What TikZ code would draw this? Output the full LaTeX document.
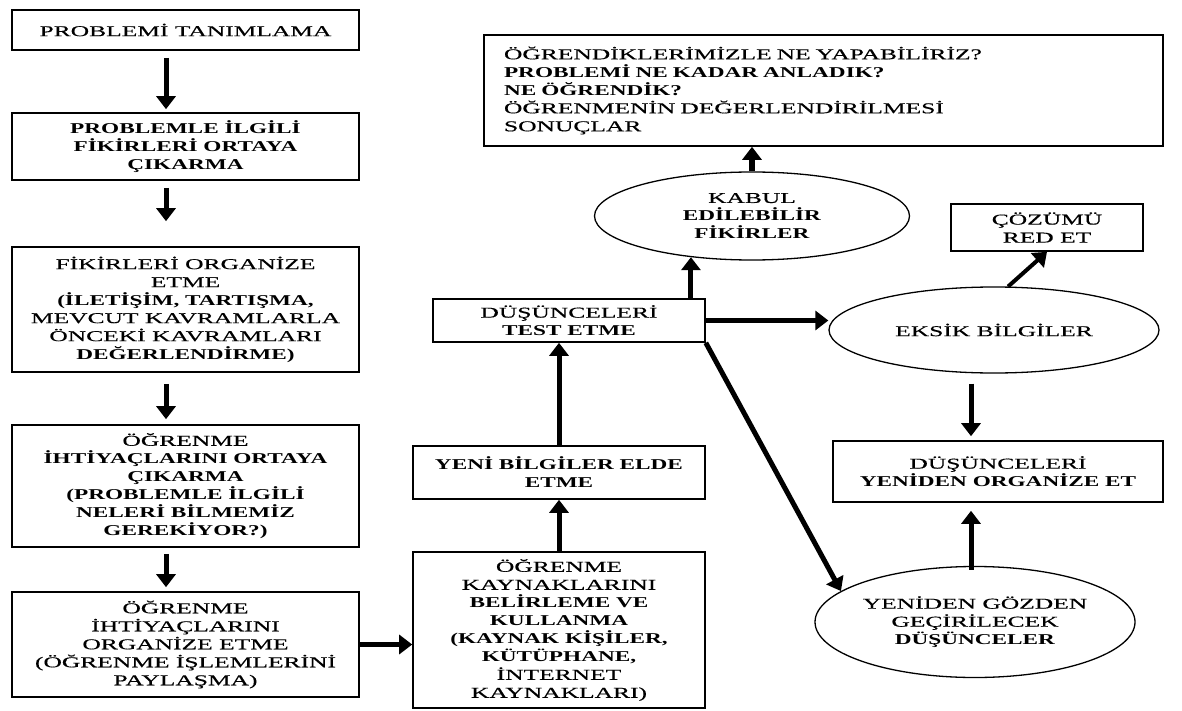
\documentclass[tikz,border=0pt]{standalone}
\usepackage{fontspec}
\setmainfont{Liberation Serif}[UprightFeatures={FakeStretch=1.7, FakeBold=0.4}, BoldFeatures={FakeStretch=1.55}]
\usetikzlibrary{arrows.meta}
\usetikzlibrary{shapes.geometric}

\tikzset{
  box/.style={draw, line width=1.6pt, inner sep=0pt, align=center, font=\fontsize{15}{18}\selectfont},
  oval/.style={draw, ellipse, line width=1.3pt, inner sep=0pt, align=center, font=\fontsize{15}{18}\selectfont},
  arr/.style={line width=5pt, -{Triangle[length=13pt,width=19pt]}},
}

\begin{document}
\begin{tikzpicture}[x=1pt,y=-1pt]
\useasboundingbox (0,0) rectangle (1182,711);

% left column
\node[box, minimum width=347pt, minimum height=40pt] (tanim) at (185.5,30) {PROBLEMİ TANIMLAMA};
\node[box, minimum width=347pt, minimum height=67pt] (fikir) at (185.5,146.5)
  {\textbf{PROBLEMLE İLGİLİ}\\\textbf{FİKİRLERİ ORTAYA}\\\textbf{ÇIKARMA}};
\node[box, minimum width=347pt, minimum height=125pt] (organize) at (185.5,309.5)
  {FİKİRLERİ ORGANİZE\\ETME\\\textbf{(İLETİŞİM, TARTIŞMA,}\\MEVCUT KAVRAMLARLA\\ÖNCEKİ KAVRAMLARI\\\textbf{DEĞERLENDİRME)}};
\node[box, minimum width=347pt, minimum height=122pt] (ihtiyac) at (185.5,486)
  {ÖĞRENME\\\textbf{İHTİYAÇLARINI ORTAYA}\\\textbf{ÇIKARMA}\\\textbf{(PROBLEMLE İLGİLİ}\\\textbf{NELERİ BİLMEMİZ}\\\textbf{GEREKİYOR?)}};
\node[box, minimum width=347pt, minimum height=105pt] (ihtorg) at (185.5,644.5)
  {ÖĞRENME\\İHTİYAÇLARINI\\ORGANİZE ETME\\(ÖĞRENME İŞLEMLERİNİ\\PAYLAŞMA)};

% middle column
\node[box, minimum width=292pt, minimum height=156pt] (kaynak) at (559,630)
  {ÖĞRENME\\KAYNAKLARINI\\\textbf{BELİRLEME VE}\\\textbf{KULLANMA}\\\textbf{(KAYNAK KİŞİLER,}\\\textbf{KÜTÜPHANE,}\\İNTERNET\\KAYNAKLARI)};
\node[box, minimum width=292pt, minimum height=53pt] (yeni) at (559,472.5)
  {\textbf{YENİ BİLGİLER ELDE}\\\textbf{ETME}};
\node[box, minimum width=272pt, minimum height=43pt] (test) at (569,320.5)
  {DÜŞÜNCELERİ\\\textbf{TEST ETME}};
\node[oval, minimum width=315pt, minimum height=88pt] (kabul) at (752,216)
  {KABUL\\\textbf{EDİLEBİLİR}\\\textbf{FİKİRLER}};
\node[box, minimum width=679pt, minimum height=111pt, text width=639pt, align=left] (sonuc) at (823.5,90.5)
  {ÖĞRENDİKLERİMİZLE NE YAPABİLİRİZ?\\\textbf{PROBLEMİ NE KADAR ANLADIK?}\\\textbf{NE ÖĞRENDİK?}\\ÖĞRENMENİN DEĞERLENDİRİLMESİ\\SONUÇLAR};

% right column
\node[box, minimum width=192pt, minimum height=47pt] (red) at (1047,227.5) {ÇÖZÜMÜ\\RED ET};
\node[oval, minimum width=330pt, minimum height=86pt] (eksik) at (994,330) {EKSİK BİLGİLER};
\node[box, minimum width=330pt, minimum height=61pt] (yorg) at (998,471.5)
  {DÜŞÜNCELERİ\\\textbf{YENİDEN ORGANİZE ET}};
\node[oval, minimum width=320pt, minimum height=111pt] (gozden) at (975,622)
  {YENİDEN GÖZDEN\\GEÇİRİLECEK\\\textbf{DÜŞÜNCELER}};

\coordinate (lx) at (166,0);
\coordinate (rx) at (971,0);

\draw[arr, shorten <=7pt, shorten >=3pt] (tanim.south -| lx) -- (fikir.north -| lx);
\draw[arr, shorten <=7pt, shorten >=25pt] (fikir.south -| lx) -- (organize.north -| lx);
\draw[arr, shorten <=11pt, shorten >=5pt] (organize.south -| lx) -- (ihtiyac.north -| lx);
\draw[arr, shorten <=6pt, shorten >=4pt] (ihtiyac.south -| lx) -- (ihtorg.north -| lx);
\draw[arr] (ihtorg.east) -- (ihtorg.east -| kaynak.west);

\draw[arr] (kaynak.north) -- (yeni.south);
\draw[arr] (yeni.north) -- (yeni.north |- test.south);
\draw[arr] (kabul.214 |- test.north) -- (kabul.214);
\draw[arr, line width=6pt] (kabul.north) -- (kabul.north |- sonuc.south);

\draw[arr] (test.east) -- (test.east -| eksik.west);
\draw[arr] (test.south east) -- (gozden.167);
\draw[arr, line width=4pt] (eksik.72) -- (red.south);
\draw[arr, shorten <=10pt, shorten >=4pt] (eksik.south -| rx) -- (yorg.north -| rx);
\draw[arr, shorten <=-4pt, shorten >=8pt] (gozden.north -| rx) -- (yorg.south -| rx);
\end{tikzpicture}
\end{document}
